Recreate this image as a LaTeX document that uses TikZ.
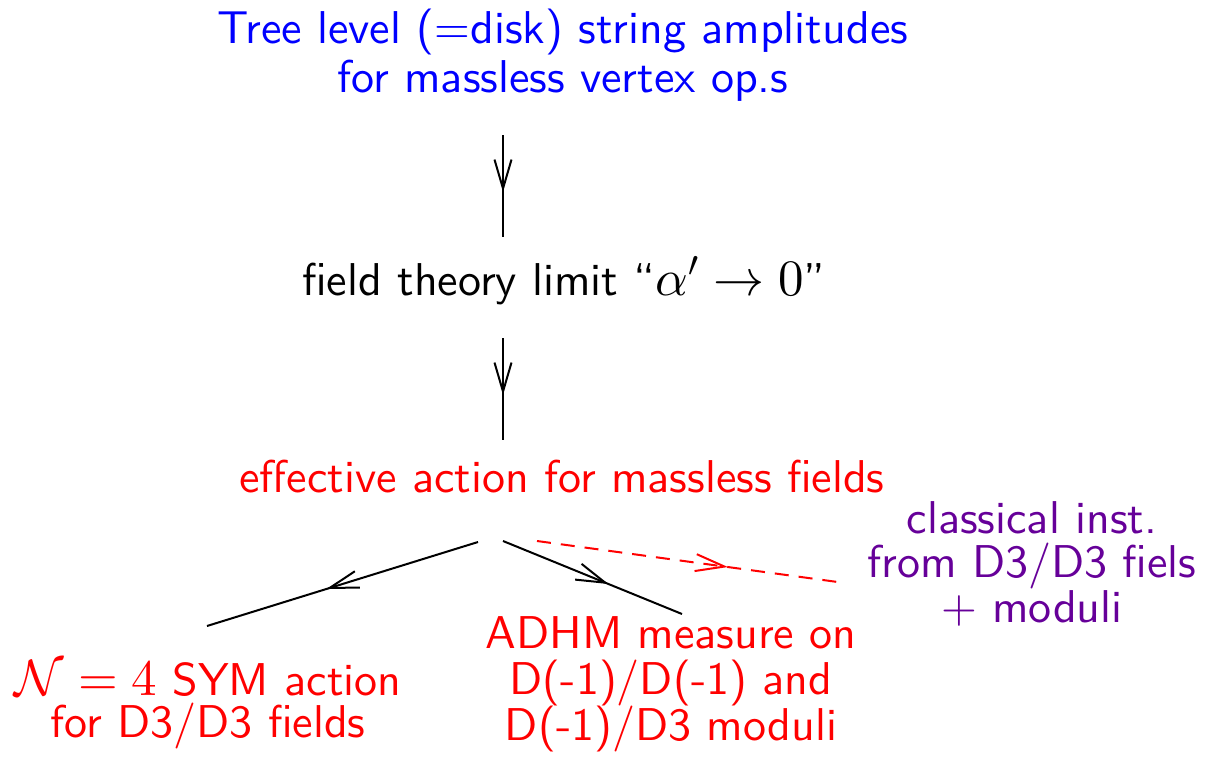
\documentclass[tikz,border=0pt]{standalone}
\usepackage{fontspec}
\setsansfont{lmsans10-regular.otf}
\DeclareFontShape{OT1}{cmr}{m}{n}{<->cmr10}{}
\DeclareFontShape{OML}{cmm}{m}{it}{<->cmmi10}{}
\DeclareFontShape{OMS}{cmsy}{m}{n}{<->cmsy10}{}
\DeclareMathSizes{23}{25.5}{18}{14}
\usetikzlibrary{arrows.meta,decorations.markings}
\definecolor{instpurple}{RGB}{102,0,153}
\begin{document}
\begin{tikzpicture}[x=0.5pt,y=-0.5pt,
  txt/.style={inner sep=0pt,align=center,anchor=base,font=\sffamily\fontsize{23}{24.5}\selectfont},
  conn/.style={line width=1pt},
  midarrow/.style={postaction={decorate},decoration={markings,
     mark=at position #1 with {\arrow[line width=1pt]{Straight Barb[length=14.5pt,width=8.5pt]}}}}
  ]
\useasboundingbox (0,0) rectangle (1217,756);
\node[txt,text=blue] (top) at (563,92) {Tree level (=disk) string amplitudes\\for massless vertex op.s};
\node[txt] (ft) at (564,295) {field theory limit ``$\alpha'\to 0$''};
\node[txt,text=red] (eff) at (562,492) {effective action for massless fields};
\node[txt,text=red,font=\sffamily\fontsize{23}{21}\selectfont] (sym) at (208,737) {$\mathcal{N}=4$ SYM action\\for D3/D3 fields};
\node[txt,text=red,font=\sffamily\fontsize{23}{23}\selectfont] (adhm) at (671,740) {ADHM measure on\\D(-1)/D(-1) and\\D(-1)/D3 moduli};
\node[txt,text=instpurple,font=\sffamily\fontsize{23}{22.25}\selectfont] (cl) at (1032,622) {classical inst.\\from D3/D3 fiels\\+ moduli};
\coordinate (a1s) at (503,135); \coordinate (a1e) at (503,237);
\coordinate (a2s) at (503,338); \coordinate (a2e) at (503,440);
\coordinate (ls) at (478,542); \coordinate (le) at (207,626);
\coordinate (rs) at (503,541); \coordinate (re) at (682,614);
\coordinate (ds) at (537,541); \coordinate (de) at (845,583);
\draw[conn,midarrow=0.56] (a1s) -- (a1e);
\draw[conn,midarrow=0.56] (a2s) -- (a2e);
\draw[conn,midarrow=0.56] (ls) -- (le);
\draw[conn,midarrow=0.59] (rs) -- (re);
\draw[conn,red,dash pattern=on 7pt off 5pt,midarrow=0.62] (ds) -- (de);
\end{tikzpicture}
\end{document}
